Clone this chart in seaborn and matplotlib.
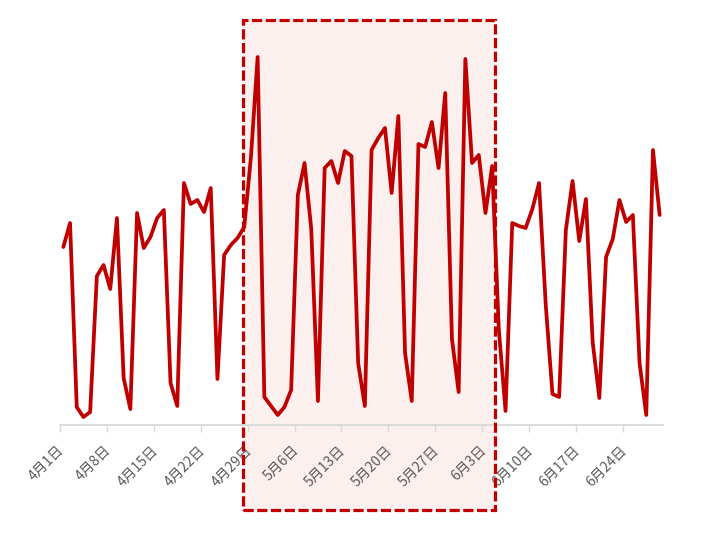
import matplotlib
matplotlib.use("Agg")
import matplotlib.pyplot as plt
import matplotlib.transforms as mtransforms
from matplotlib.patches import Rectangle
import seaborn as sns
import pandas as pd
import numpy as np

# ---- data -------------------------------------------------------------
dates = list(pd.date_range("2024-04-01", periods=90, freq="D"))
values = [178, 202, 18, 8, 13, 149, 160, 136, 207, 47,
          16, 212, 177, 188, 207, 215, 42, 19, 242, 221,
          225, 213, 237, 46, 170, 180, 187, 198, 268, 368,
          28, 19, 10, 18, 35, 230, 262, 196, 24, 257,
          264, 242, 274, 269, 62, 19, 275, 287, 297, 232,
          309, 72, 24, 281, 278, 303, 257, 332, 86, 33,
          366, 262, 270, 212, 259, 95, 14, 202, 199, 197,
          216, 242, 120, 31, 28, 195, 244, 184, 226, 83,
          27, 168, 186, 225, 203, 210, 62, 10, 275, 210]
tick_labels = ["4月1日", "4月8日", "4月15日", "4月22日", "4月29日", "5月6日",
               "5月13日", "5月20日", "5月27日", "6月3日", "6月10日", "6月17日",
               "6月24日"]
highlight_range = (26.8, 64.4)   # category positions of the highlighted period

df = pd.DataFrame({"idx": np.arange(len(values)), "value": values})

# ---- style ------------------------------------------------------------
sns.set_style("white")
plt.rcParams["font.family"] = ["Noto Sans CJK SC", "DejaVu Sans"]

RED = "#C00000"
GRID = "#D9D9D9"
TXT = "#595959"

fig = plt.figure(figsize=(7.11, 5.41), dpi=100)
ax = fig.add_axes([60 / 711, 116 / 541, 603 / 711, 405 / 541])
ax.set_axisbelow(True)

sns.lineplot(data=df, x="idx", y="value", ax=ax, color=RED, linewidth=2.7,
             zorder=3)

ax.set_xlim(-0.5, len(values) - 0.5)
ax.set_ylim(0, 405)

# highlight box (spans beyond the axes vertically)
trans = mtransforms.blended_transform_factory(ax.transData, fig.transFigure)
y0, y1 = (541 - 510) / 541, (541 - 20) / 541
x0, x1 = highlight_range
ax.add_patch(Rectangle((x0, y0), x1 - x0, y1 - y0, transform=trans,
                       facecolor="#FCF0EE", edgecolor="none", zorder=0.1,
                       clip_on=False))
ax.add_patch(Rectangle((x0, y0), x1 - x0, y1 - y0, transform=trans,
                       facecolor="none", edgecolor=RED, linewidth=2.3,
                       linestyle=(0, (3.2, 1.1)), zorder=5, clip_on=False))

# axes decoration
for s in ["top", "right", "left"]:
    ax.spines[s].set_visible(False)
ax.spines["bottom"].set_color(GRID)
ax.spines["bottom"].set_linewidth(1.3)
ax.spines["bottom"].set_zorder(2)
ax.set_yticks([])
ticks = np.arange(0, len(values), 7) - 0.5
ax.set_xticks(ticks)
ax.set_xticklabels(tick_labels)
ax.tick_params(axis="x", bottom=True, length=5, width=1, color=GRID,
               labelsize=10, labelcolor=TXT, pad=8)
offset = mtransforms.ScaledTranslation(7 / 100, 0, fig.dpi_scale_trans)
for lab in ax.get_xticklabels():
    lab.set_rotation(45)
    lab.set_ha("right")
    lab.set_va("top")
    lab.set_transform(lab.get_transform() + offset)
ax.set_xlabel("")
ax.set_ylabel("")
ax.set_facecolor("none")

fig.savefig("out.png", dpi=100)
